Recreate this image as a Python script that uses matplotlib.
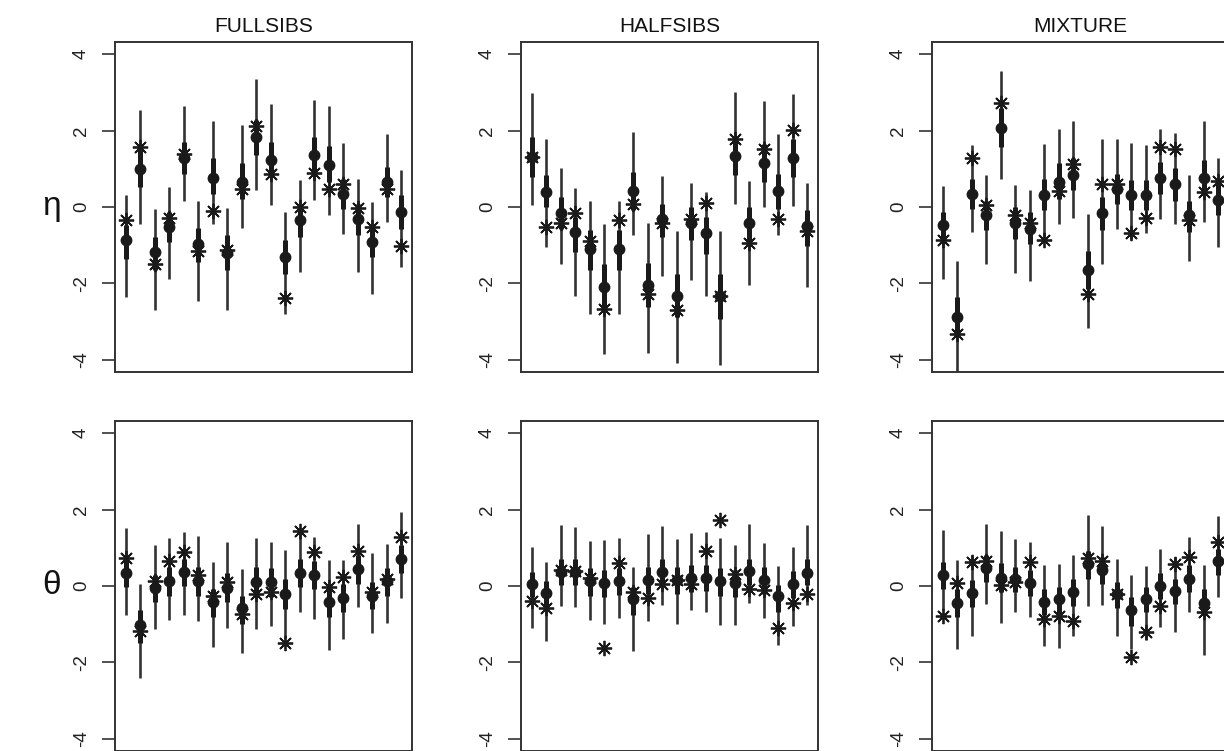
import matplotlib
matplotlib.use("Agg")
import matplotlib.pyplot as plt
import numpy as np

plt.rcParams['font.family'] = ['Liberation Sans', 'DejaVu Sans']

col_titles = ["FULLSIBS", "HALFSIBS", "MIXTURE"]
row_labels = ["η", "θ"]
yticks = [-4, -2, 0, 2, 4]

# ---------- eta, FULLSIBS ----------
fs_eta_est  = [-0.87, 1.00, -1.19, -0.52, 1.27, -0.98, 0.77, -1.21, 0.66, 1.84, 1.24, -1.31, -0.35, 1.35, 1.11, 0.33, -0.32, -0.92, 0.66, -0.13]
fs_eta_true = [-0.33, 1.56, -1.50, -0.28, 1.38, -1.15, -0.11, -1.12, 0.46, 2.12, 0.87, -2.39, 0.00, 0.90, 0.46, 0.61, -0.03, -0.52, 0.46, -1.01]
fs_eta_lo95 = [-2.36, -0.44, -2.69, -1.88, 0.15, -2.45, -0.44, -2.69, -0.55, 0.44, 0.04, -2.80, -1.70, 0.19, -0.20, -0.70, -1.70, -2.27, -0.39, -1.56]
fs_eta_hi95 = [0.32, 2.55, -0.04, 0.52, 2.65, 0.17, 2.25, -0.02, 2.15, 3.35, 2.69, -0.13, 0.70, 2.80, 2.64, 1.68, 0.73, 0.13, 1.92, 0.96]
fs_eta_lo50 = [-1.35, 0.52, -1.66, -0.92, 0.87, -1.44, 0.35, -1.66, 0.22, 1.35, 0.79, -1.75, -0.79, 0.92, 0.66, -0.04, -0.74, -1.31, 0.26, -0.57]
fs_eta_hi50 = [-0.48, 1.49, -0.79, -0.13, 1.70, -0.54, 1.27, -0.74, 1.14, 2.27, 1.70, -0.87, 0.04, 1.84, 1.59, 0.74, 0.09, -0.52, 1.05, 0.31]

# ---------- eta, HALFSIBS ----------
hs_eta_est  = [1.31, 0.39, -0.15, -0.66, -1.09, -2.10, -1.09, 0.41, -2.05, -0.31, -2.32, -0.42, -0.68, -2.34, 1.33, -0.42, 1.14, 0.42, 1.29, -0.51]
hs_eta_true = [1.31, -0.52, -0.42, -0.15, -0.90, -2.67, -0.35, 0.07, -2.27, -0.42, -2.69, -0.32, 0.10, -2.34, 1.77, -0.94, 1.51, -0.32, 2.01, -0.63]
hs_eta_lo95 = [0.04, -1.05, -1.49, -2.32, -2.81, -3.85, -2.81, -0.74, -3.83, -1.81, -4.09, -1.90, -2.33, -4.13, 0.09, -2.03, 0.00, -0.73, 0.03, -2.10]
hs_eta_hi95 = [2.99, 1.77, 1.02, 0.51, 0.15, -0.44, 0.15, 1.97, -0.42, 0.80, -0.64, 0.64, 0.39, -0.64, 3.02, 0.68, 2.78, 1.92, 2.97, 0.63]
hs_eta_lo50 = [0.79, 0.00, -0.57, -1.18, -1.66, -2.62, -1.66, -0.09, -2.62, -0.79, -2.88, -0.87, -1.22, -2.93, 0.83, -0.87, 0.66, -0.04, 0.79, -1.01]
hs_eta_hi50 = [1.82, 0.83, 0.26, -0.26, -0.61, -1.49, -0.61, 0.92, -1.47, 0.09, -1.75, 0.00, -0.26, -1.75, 1.84, 0.00, 1.64, 0.87, 1.79, -0.09]

# ---------- eta, MIXTURE ----------
mx_eta_est  = [-0.48, -2.88, 0.35, -0.20, 2.08, -0.42, -0.57, 0.32, 0.66, 0.83, -1.64, -0.17, 0.46, 0.31, 0.31, 0.76, 0.59, -0.22, 0.76, 0.19]
mx_eta_true = [-0.87, -3.32, 1.27, 0.06, 2.73, -0.22, -0.42, -0.86, 0.42, 1.12, -2.27, 0.61, 0.61, -0.68, -0.28, 1.56, 1.53, -0.35, 0.39, 0.68]
mx_eta_lo95 = [-1.88, -4.60, -0.66, -1.50, 0.74, -1.72, -1.94, -0.79, -0.44, -0.28, -3.16, -1.49, -0.57, -0.83, -0.68, -0.31, -0.44, -1.42, -0.39, -1.05]
mx_eta_hi95 = [0.54, -1.42, 1.62, 0.83, 3.57, 0.57, 0.45, 1.66, 2.05, 2.25, -0.19, 1.79, 1.77, 1.68, 1.62, 2.05, 1.94, 0.83, 2.25, 1.28]
mx_eta_lo50 = [-0.87, -3.41, -0.04, -0.61, 1.57, -0.83, -0.96, -0.09, 0.22, 0.44, -2.14, -0.61, 0.09, -0.09, -0.09, 0.35, 0.17, -0.66, 0.35, -0.22]
mx_eta_hi50 = [-0.13, -2.36, 0.74, 0.17, 2.58, 0.00, -0.13, 0.74, 1.14, 1.27, -1.14, 0.26, 0.87, 0.70, 0.70, 1.18, 1.01, 0.17, 1.22, 0.61]

# ---------- theta, FULLSIBS ----------
fs_th_est  = [0.33, -1.02, -0.05, 0.12, 0.37, 0.13, -0.42, -0.05, -0.58, 0.11, 0.11, -0.20, 0.33, 0.28, -0.42, -0.31, 0.44, -0.25, 0.13, 0.70]
fs_th_true = [0.74, -1.17, 0.12, 0.66, 0.88, 0.30, -0.25, 0.11, -0.73, -0.20, -0.16, -1.50, 1.45, 0.88, -0.03, 0.24, 0.91, -0.16, 0.19, 1.29]
fs_th_lo95 = [-0.76, -2.42, -1.13, -0.88, -0.75, -0.92, -1.61, -1.10, -1.76, -1.13, -1.05, -1.35, -0.67, -0.86, -1.68, -1.39, -0.55, -1.23, -0.97, -0.32]
fs_th_hi95 = [1.51, 0.06, 1.07, 1.25, 1.41, 1.32, 0.63, 1.16, 0.44, 1.25, 1.16, 0.94, 1.51, 1.29, 0.68, 0.68, 1.63, 0.87, 1.10, 1.93]
fs_th_lo50 = [-0.03, -1.48, -0.42, -0.25, 0.00, -0.25, -0.82, -0.42, -0.99, -0.29, -0.29, -0.60, -0.03, -0.09, -0.82, -0.69, 0.06, -0.60, -0.25, 0.33]
fs_th_hi50 = [0.68, -0.64, 0.30, 0.50, 0.72, 0.50, -0.07, 0.33, -0.25, 0.50, 0.47, 0.19, 0.72, 0.65, -0.03, 0.06, 0.81, 0.11, 0.47, 1.07]

# ---------- theta, HALFSIBS ----------
hs_th_est  = [0.06, -0.18, 0.37, 0.37, 0.13, 0.08, 0.13, -0.35, 0.17, 0.37, 0.17, 0.21, 0.22, 0.12, 0.08, 0.39, 0.17, -0.27, 0.06, 0.35]
hs_th_true = [-0.40, -0.58, 0.41, 0.39, 0.21, -1.63, 0.61, -0.16, -0.31, 0.04, 0.17, 0.06, 0.91, 1.73, 0.31, -0.09, -0.11, -1.10, -0.44, -0.22]
hs_th_lo95 = [-1.11, -1.45, -0.53, -0.54, -0.88, -0.99, -0.84, -1.71, -0.91, -0.49, -0.99, -0.64, -0.67, -1.02, -1.02, -0.44, -0.84, -1.55, -1.04, -0.51]
hs_th_hi95 = [1.01, 0.63, 1.60, 1.54, 1.19, 1.20, 1.25, 0.50, 1.36, 1.57, 1.22, 1.38, 1.41, 1.25, 1.07, 1.62, 1.13, 0.53, 1.03, 1.60]
hs_th_lo50 = [-0.29, -0.55, 0.02, 0.02, -0.25, -0.29, -0.23, -0.77, -0.20, 0.02, -0.20, -0.16, -0.14, -0.25, -0.29, 0.02, -0.20, -0.69, -0.32, 0.02]
hs_th_hi50 = [0.37, 0.13, 0.70, 0.70, 0.46, 0.41, 0.47, -0.03, 0.50, 0.72, 0.50, 0.55, 0.56, 0.46, 0.41, 0.72, 0.50, 0.02, 0.39, 0.70]

# ---------- theta, MIXTURE ----------
mx_th_est  = [0.30, -0.44, -0.18, 0.46, 0.22, 0.19, 0.08, -0.42, -0.35, -0.16, 0.57, 0.41, -0.22, -0.64, -0.35, 0.00, -0.14, 0.19, -0.44, 0.66]
mx_th_true = [-0.79, 0.09, 0.63, 0.66, 0.02, 0.11, 0.62, -0.86, -0.79, -0.92, 0.74, 0.66, -0.20, -1.85, -1.20, -0.53, 0.57, 0.76, -0.67, 1.14]
mx_th_lo95 = [-0.64, -1.65, -1.30, -0.47, -0.97, -0.69, -0.82, -1.56, -1.63, -1.30, -0.53, -0.49, -1.32, -1.65, -1.41, -1.08, -1.20, -0.69, -1.81, -0.29]
mx_th_hi95 = [1.47, 0.69, 0.81, 1.62, 1.44, 1.22, 1.16, 0.55, 0.57, 0.81, 1.85, 1.57, 0.70, 0.30, 0.53, 0.97, 0.76, 1.27, 0.56, 1.82]
mx_th_lo50 = [-0.07, -0.82, -0.55, 0.11, -0.16, -0.16, -0.25, -0.77, -0.73, -0.53, 0.19, 0.06, -0.58, -1.04, -0.69, -0.33, -0.47, -0.16, -0.77, 0.28]
mx_th_hi50 = [0.63, -0.09, 0.15, 0.81, 0.59, 0.50, 0.41, -0.09, -0.03, 0.18, 0.91, 0.76, 0.11, -0.29, -0.03, 0.33, 0.19, 0.55, -0.07, 0.98]

panels = [
    [(fs_eta_est, fs_eta_true, fs_eta_lo95, fs_eta_hi95, fs_eta_lo50, fs_eta_hi50),
     (hs_eta_est, hs_eta_true, hs_eta_lo95, hs_eta_hi95, hs_eta_lo50, hs_eta_hi50),
     (mx_eta_est, mx_eta_true, mx_eta_lo95, mx_eta_hi95, mx_eta_lo50, mx_eta_hi50)],
    [(fs_th_est, fs_th_true, fs_th_lo95, fs_th_hi95, fs_th_lo50, fs_th_hi50),
     (hs_th_est, hs_th_true, hs_th_lo95, hs_th_hi95, hs_th_lo50, hs_th_hi50),
     (mx_th_est, mx_th_true, mx_th_lo95, mx_th_hi95, mx_th_lo50, mx_th_hi50)],
]

W, H = 1224, 751
fig = plt.figure(figsize=(W / 100, H / 100), dpi=100)
fig.patch.set_facecolor("white")

col_left = [115, 521, 932]
panel_w = 297
row_top = [42, 421]
panel_h = 330

ink = "#1a1a1a"
for r in range(2):
    for c in range(3):
        est, tru, lo95, hi95, lo50, hi50 = panels[r][c]
        x = np.arange(1, len(est) + 1)
        ax = fig.add_axes([col_left[c] / W, 1 - (row_top[r] + panel_h) / H,
                           panel_w / W, panel_h / H])
        ax.vlines(x, lo95, hi95, color="#333333", lw=1.9, zorder=2)
        ax.vlines(x, lo50, hi50, color=ink, lw=3.6, zorder=3)
        ax.plot(x, est, "o", color=ink, ms=7.5, zorder=4)
        ax.plot(x, tru, linestyle="none", marker=(8, 2, 0), color=ink,
                ms=11, mew=1.3, zorder=5)
        n = len(est)
        pad = 0.04 * (n - 1)
        ax.set_xlim(1 - pad, n + pad)
        ax.set_ylim(-4.32, 4.32)
        ax.set_xticks([])
        ax.set_yticks(yticks)
        ax.set_yticklabels([str(v) for v in yticks], rotation=90, va="center",
                           fontsize=13.5, color="#222222")
        ax.tick_params(axis="y", length=9.5, width=1.2, pad=8.5, color="#333333")
        for sp in ax.spines.values():
            sp.set_linewidth(1.4)
            sp.set_color("#333333")
        if r == 0:
            ax.set_title(col_titles[c], fontsize=15, pad=7, color="#111111")

fig.text(52 / W, 1 - 207 / H, row_labels[0], fontsize=24, ha="center", va="center", color="#111111")
fig.text(52 / W, 1 - 586 / H, row_labels[1], fontsize=24, ha="center", va="center", color="#111111")

fig.savefig("out.png", dpi=100)
